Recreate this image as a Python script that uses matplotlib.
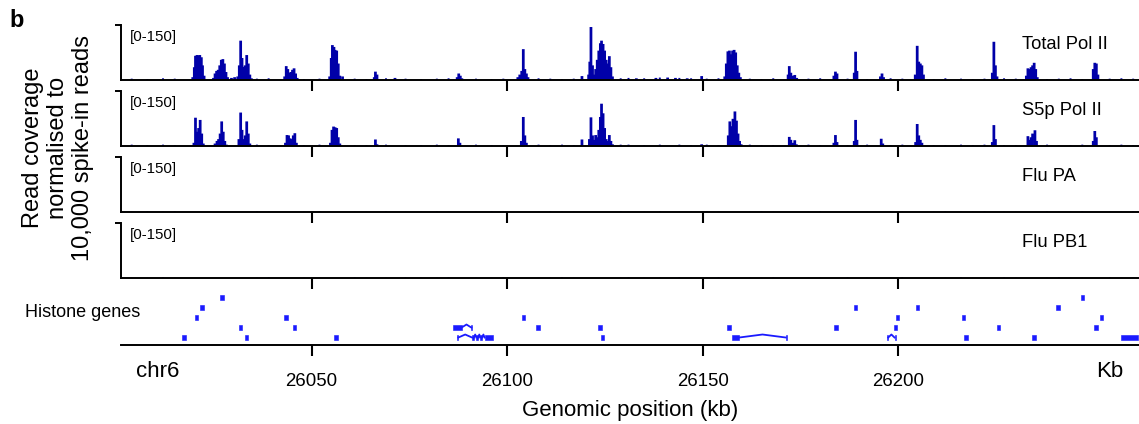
import matplotlib
matplotlib.use("Agg")
import matplotlib.pyplot as plt

plt.rcParams['font.family'] = ['Liberation Sans', 'DejaVu Sans']

# ---- coverage data (kb position, normalised read coverage) ----
tot_pos = [26019.6, 26020.0, 26020.3, 26020.7, 26021.0, 26021.4, 26021.8, 26022.1, 26022.5,
           26024.9, 26025.3, 26025.7, 26026.1, 26026.5, 26026.9, 26027.3, 26027.7, 26028.1, 26028.5,
           26029.5, 26030.3,
           26031.1, 26031.5, 26031.85, 26032.2, 26032.6, 26033.0, 26033.4, 26033.8, 26034.2, 26034.6,
           26043.1, 26043.5, 26043.9, 26044.3, 26044.7, 26045.1, 26045.5, 26045.9, 26046.3,
           26054.6, 26055.0, 26055.3, 26055.7, 26056.0, 26056.4, 26056.8, 26057.2, 26057.9,
           26066.0, 26066.3, 26066.7, 26071.3,
           26087.2, 26087.6, 26088.0, 26088.4,
           26102.7, 26103.2, 26103.7, 26104.1, 26104.5, 26104.9, 26105.3,
           26119.1, 26120.8, 26121.1, 26121.4, 26121.8, 26122.2,
           26122.6, 26123.0, 26123.4, 26123.8, 26124.1, 26124.5, 26124.9, 26125.3, 26125.7, 26126.1,
           26126.5, 26126.9,
           26133.0, 26138.0, 26141.0, 26143.0, 26146.0, 26149.7,
           26155.6, 26156.0, 26156.4, 26156.8, 26157.2, 26157.6, 26158.0, 26158.4, 26158.8, 26159.2,
           26159.6,
           26171.8, 26172.1, 26172.5, 26173.0, 26173.5, 26174.0,
           26183.5, 26183.9, 26184.3, 26188.7, 26189.05, 26189.4, 26195.4, 26195.8, 26196.2,
           26204.3, 26204.8, 26205.2, 26205.6, 26206.0, 26206.4,
           26224.0, 26224.4, 26224.8, 26225.2,
           26232.7, 26233.1, 26233.5, 26233.9, 26234.3, 26234.7, 26235.1, 26235.5,
           26249.8, 26250.2, 26250.6, 26251.0]
tot_val = [8, 35, 66, 68, 67, 68, 62, 40, 12,
           6, 18, 25, 28, 40, 55, 57, 45, 22, 8,
           6, 8,
           10, 40, 107, 60, 36, 40, 68, 45, 15, 5,
           10, 38, 30, 20, 22, 28, 32, 18, 6,
           10, 60, 95, 90, 82, 80, 45, 12, 10,
           8, 23, 15, 6,
           8, 18, 12, 5,
           8, 15, 25, 84, 30, 18, 8,
           11, 15, 50, 144, 40, 15,
           30, 55, 80, 100, 107, 98, 80, 55, 45, 65,
           35, 10,
           5, 6, 7, 6, 5, 11,
           10, 45, 78, 80, 70, 80, 82, 75, 40, 20,
           8,
           15, 38, 20, 12, 14, 6,
           12, 23, 18, 20, 77, 25, 10, 18, 8,
           15, 93, 50, 45, 40, 15,
           20, 104, 40, 10,
           12, 32, 30, 35, 40, 47, 30, 8,
           30, 47, 45, 15]

s5p_pos = [26019.9, 26020.3, 26020.7, 26021.1, 26021.5, 26021.9, 26022.3,
           26025.3, 26025.8, 26026.2, 26026.6, 26027.0, 26027.4, 26027.8, 26028.2,
           26031.4, 26031.85, 26032.2, 26032.6, 26033.0, 26033.4, 26033.8, 26034.2,
           26043.3, 26043.7, 26044.1, 26044.5, 26044.9, 26045.3, 26045.7, 26046.1,
           26054.8, 26055.2, 26055.6, 26056.0, 26056.4, 26056.8, 26057.2,
           26066.3, 26066.7, 26087.5, 26087.9,
           26103.6, 26104.1, 26104.5, 26104.9,
           26119.1, 26121.0, 26121.4, 26121.8, 26122.2, 26122.6, 26123.0, 26123.4, 26123.8,
           26124.1, 26124.5, 26124.9, 26125.3, 26125.7, 26126.1, 26126.5, 26126.9,
           26149.7,
           26156.5, 26156.9, 26157.3, 26157.7, 26158.2, 26158.6, 26159.0, 26159.4, 26159.8,
           26172.1, 26172.5, 26173.0, 26173.5, 26173.9,
           26183.5, 26183.9, 26184.3, 26188.7, 26189.05, 26189.4, 26195.6, 26196.0,
           26204.4, 26204.8, 26205.2, 26205.6, 26206.0,
           26224.0, 26224.4, 26224.8,
           26233.1, 26233.5, 26233.9, 26234.3, 26234.9, 26235.3,
           26249.8, 26250.2, 26250.6]
s5p_val = [10, 78, 40, 50, 72, 35, 8,
           8, 15, 20, 35, 68, 40, 15, 5,
           20, 92, 45, 20, 30, 68, 35, 8,
           10, 31, 30, 22, 20, 30, 36, 10,
           10, 45, 54, 52, 50, 25, 8,
           19, 6, 22, 10,
           15, 80, 30, 10,
           19, 20, 79, 30, 18, 31, 25, 45, 80,
           116, 90, 50, 20, 15, 31, 15, 6,
           6,
           30, 68, 55, 75, 95, 70, 35, 15, 6,
           26, 18, 10, 17, 6,
           10, 31, 12, 15, 72, 18, 21, 8,
           12, 61, 30, 18, 10,
           12, 58, 20,
           28, 18, 25, 35, 44, 15,
           15, 42, 25]

# low background reads along the whole window
noise_pos = [26004, 26008, 26012, 26015, 26036, 26039, 26048, 26052, 26061, 26064,
             26069, 26074, 26078, 26082, 26085, 26092, 26096, 26099, 26108, 26111,
             26114, 26117, 26129, 26131, 26135, 26139, 26144, 26147, 26151, 26154,
             26162, 26165, 26168, 26177, 26180, 26187, 26192, 26198, 26201, 26209,
             26212, 26216, 26219, 26222, 26227, 26230, 26238, 26241, 26244, 26247,
             26254, 26257, 26260]
noise_tot = [4, 3, 5, 4, 4, 5, 3, 4, 4, 3, 5, 4, 3, 4, 5, 4, 3, 4, 5, 4, 3, 4, 5, 6, 5, 7, 6, 5,
             4, 5, 4, 3, 5, 4, 5, 4, 3, 5, 4, 3, 5, 4, 3, 4, 5, 4, 3, 4, 5, 3, 4, 5, 4]
noise_s5p = [5, 4, 5, 4, 5, 4, 4, 5, 4, 4, 5, 4, 4, 5, 4, 5, 4, 4, 5, 4, 5, 4, 5, 5, 4, 5, 5, 4,
             5, 4, 5, 4, 4, 5, 4, 4, 5, 4, 5, 4, 4, 5, 4, 5, 4, 4, 5, 4, 4, 5, 4, 5, 4]
noise_pa = [2, 3, 2, 3, 3, 2, 2, 3, 2, 2, 3, 2, 2, 3, 2, 2, 3, 2, 2, 3, 2, 2, 3, 2, 2, 3, 2, 2,
            3, 2, 2, 3, 2, 2, 3, 2, 2, 3, 2, 2, 3, 2, 2, 3, 2, 2, 3, 2, 2, 3, 2, 2, 3]
noise_pb1 = [2, 2, 3, 2, 2, 3, 2, 2, 3, 2, 2, 3, 2, 2, 3, 2, 2, 3, 2, 2, 3, 2, 2, 3, 2, 2, 3, 2,
             2, 3, 2, 2, 3, 2, 2, 3, 2, 2, 3, 2, 2, 3, 2, 2, 3, 2, 2, 3, 2, 2, 3, 2, 2]

track_names = ['Total Pol II', 'S5p Pol II', 'Flu PA', 'Flu PB1']

# ---- histone genes ----
# single-exon genes: position (kb) and stacking row
gene_pos = [26017.4, 26020.6, 26021.9, 26027.1, 26031.85, 26033.3, 26043.4, 26045.65, 26056.2,
            26104.1, 26107.85, 26123.7, 26124.4, 26156.7, 26184.0, 26189.0, 26199.2, 26199.8,
            26204.9, 26216.6, 26217.25, 26225.6, 26234.7, 26240.85, 26247.0, 26250.5, 26251.95]
gene_row = [0, 2, 3, 4, 1, 0, 2, 1, 0,
            2, 1, 1, 0, 1, 1, 3, 1, 2,
            3, 2, 0, 1, 0, 3, 4, 1, 2]
# exon blocks of spliced genes
exon_start = [26086.2, 26090.8, 26087.1, 26091.0, 26092.1, 26093.1, 26094.2, 26157.4, 26171.2,
              26197.0, 26199.0, 26256.8]
exon_end = [26088.35, 26091.1, 26087.5, 26091.5, 26092.6, 26093.6, 26096.3, 26159.3, 26171.5,
            26197.4, 26199.4, 26261.3]
exon_row = [1, 1, 0, 0, 0, 0, 0, 0, 0, 0, 0, 0]
# introns
intron_start = [26088.35, 26087.5, 26091.5, 26092.6, 26093.6, 26159.3, 26197.4]
intron_end = [26090.8, 26091.0, 26092.1, 26093.1, 26094.2, 26171.2, 26199.0]
intron_row = [1, 0, 0, 0, 0, 0, 0]

x_ticks = [26050, 26100, 26150, 26200]
x_min, x_max = 26001.25, 26261.5

cov_color = '#0000a8'
gene_color = '#1a1aff'

fig = plt.figure(figsize=(11.39, 4.24), dpi=100)

left, width = 0.1062, 0.8938
track_bottoms = [0.811, 0.6545, 0.499, 0.3435]
track_h = 0.1305

tracks = [(tot_pos, tot_val, noise_tot), (s5p_pos, s5p_val, noise_s5p),
          ([], [], noise_pa), ([], [], noise_pb1)]

for i, (pos, val, noise) in enumerate(tracks):
    ax = fig.add_axes([left, track_bottoms[i], width, track_h])
    ax.bar(noise_pos, noise, width=0.5, color=cov_color, linewidth=0, snap=False)
    if pos:
        ax.bar(pos, val, width=0.7, color=cov_color, linewidth=0, snap=False)
    ax.set_xlim(x_min, x_max)
    ax.set_ylim(0, 150)
    ax.set_xticks(x_ticks)
    ax.set_xticklabels([])
    ax.set_yticks([150])
    ax.set_yticklabels([])
    ax.tick_params(axis='x', direction='out', length=8, width=1.5)
    ax.tick_params(axis='y', direction='out', length=4, width=1.4)
    for s in ['top', 'right']:
        ax.spines[s].set_visible(False)
    ax.spines['left'].set_linewidth(1.4)
    ax.spines['bottom'].set_linewidth(1.4)
    ax.text(0.0085, 0.78, '[0-150]', transform=ax.transAxes, fontsize=10.8, va='center')
    ax.patch.set_visible(False)

# gene track
gax = fig.add_axes([left, 0.1863, width, 0.1297])
for p, r in zip(gene_pos, gene_row):
    gax.bar(p, 0.55, bottom=0.47 + r, width=0.9, color=gene_color, linewidth=0.4,
            edgecolor=gene_color)
for s, e, r in zip(exon_start, exon_end, exon_row):
    gax.bar(s, 0.55, bottom=0.47 + r, width=e - s, align='edge', color=gene_color,
            linewidth=0.4, edgecolor=gene_color)
for s, e, r in zip(intron_start, intron_end, intron_row):
    gax.plot([s, (s + e) / 2, e], [0.75 + r, 1.05 + r, 0.75 + r], color=gene_color, lw=1.3)
gax.set_xlim(x_min, x_max)
gax.set_ylim(0, 5.5)
gax.set_xticks(x_ticks)
gax.set_xticklabels([str(t) for t in x_ticks], fontsize=13.4)
gax.set_yticks([])
gax.tick_params(axis='x', direction='out', length=8, width=1.5, pad=12)
for s in ['top', 'right', 'left']:
    gax.spines[s].set_visible(False)
gax.spines['bottom'].set_linewidth(1.4)
gax.patch.set_visible(False)

# track names
name_y = [0.8837, 0.7282, 0.5726, 0.4170]
for name, y in zip(track_names, name_y):
    fig.text(0.8973, y, name, fontsize=13.2, va='baseline')

fig.text(0.022, 0.2517, 'Histone genes', fontsize=13, va='baseline')
fig.text(0.1195, 0.1116, 'chr6', fontsize=16, va='baseline')
fig.text(0.962, 0.1116, 'Kb', fontsize=16, va='baseline')
fig.text(0.553, 0.033, 'Genomic position (kb)', fontsize=16, ha='center', va='center')
fig.text(0.051, 0.651, 'Read coverage\nnormalised to\n10,000 spike-in reads', fontsize=17,
         rotation=90, ha='center', va='center', multialignment='center', linespacing=1.2)
fig.text(0.008, 0.978, 'b', fontsize=17, fontweight='bold', va='top')

fig.savefig('out.png', dpi=100)
